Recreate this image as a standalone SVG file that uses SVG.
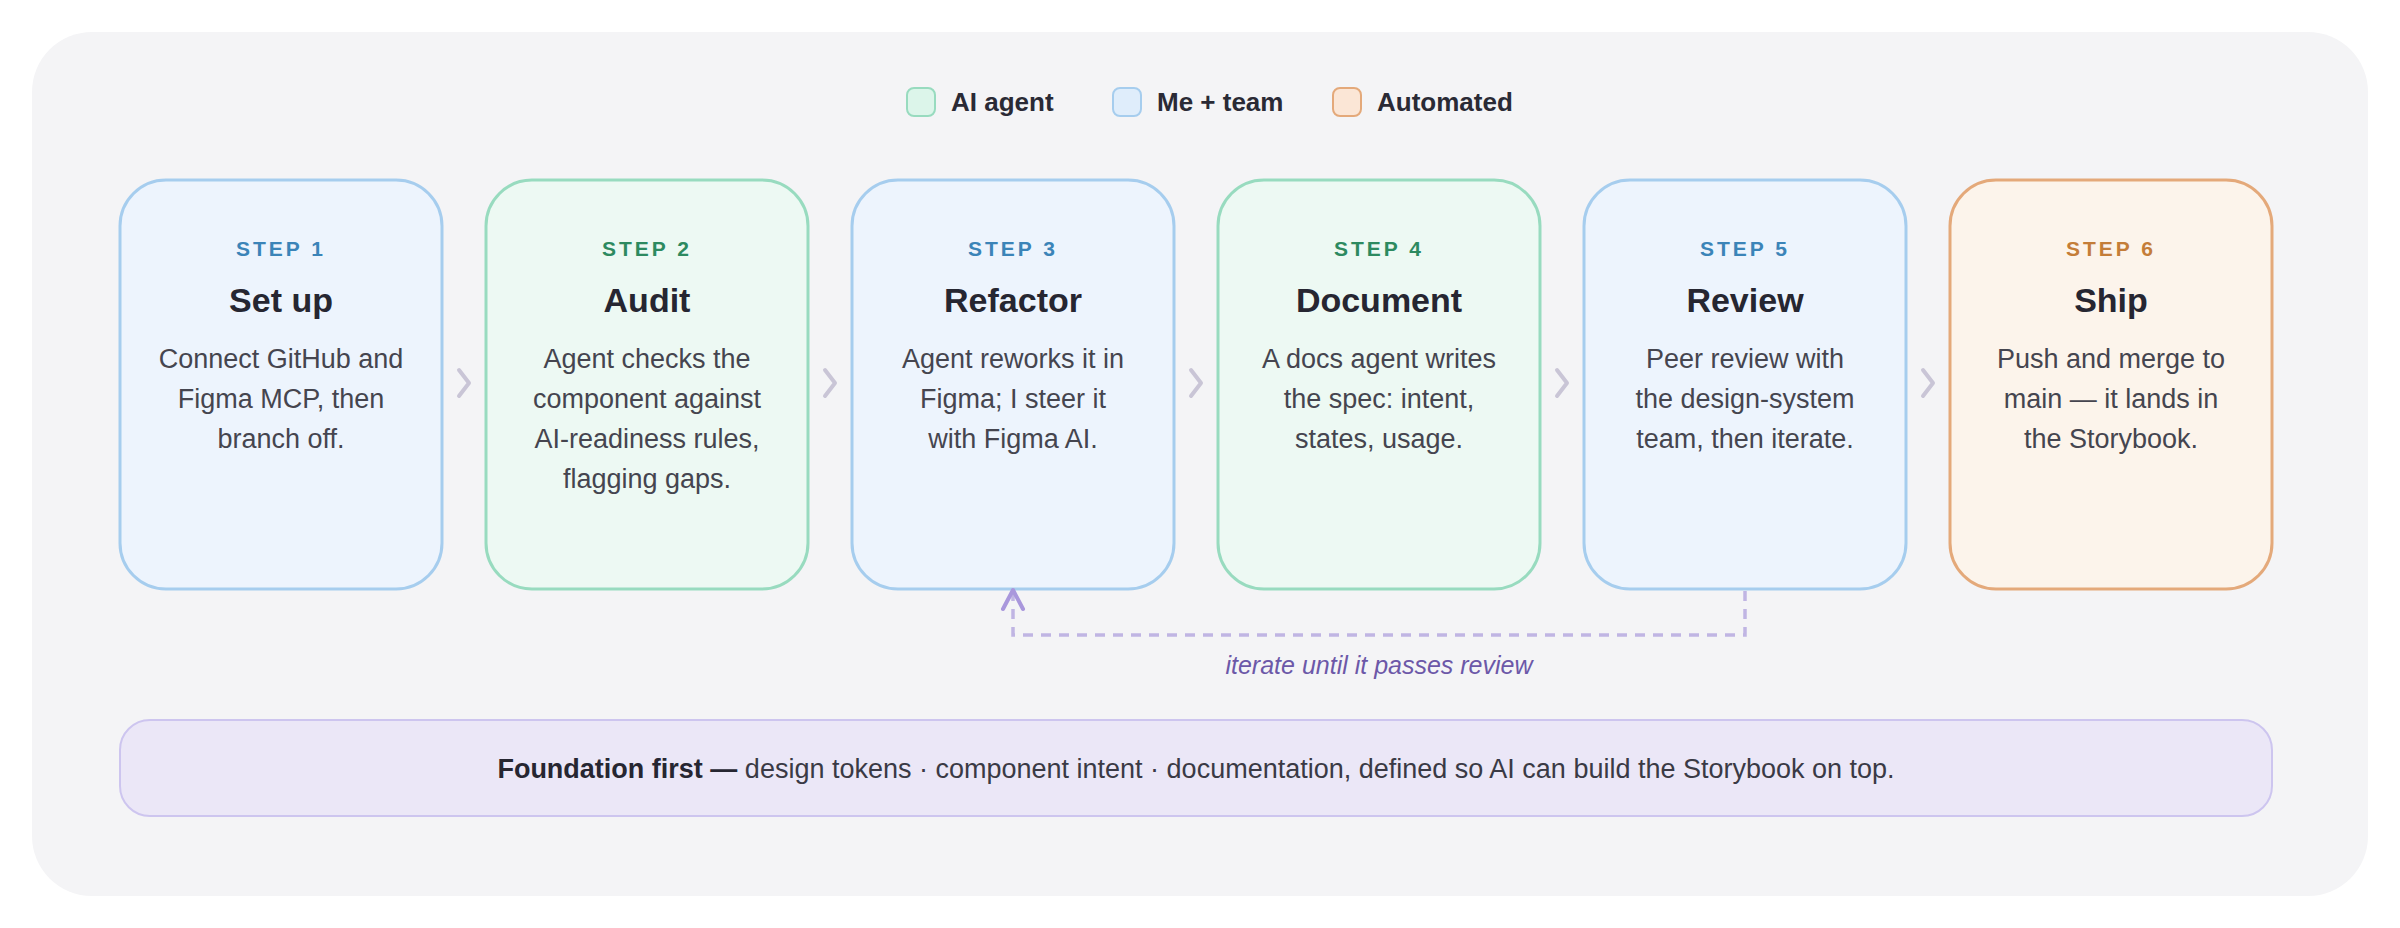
<svg xmlns="http://www.w3.org/2000/svg" width="2400" height="928" viewBox="0 0 2400 928">
<style>
text{font-family:"Liberation Sans",Arial,sans-serif}
.step{font-size:21px;font-weight:bold;letter-spacing:3px;text-anchor:middle}
.title{font-size:34px;font-weight:bold;fill:#262631;text-anchor:middle}
.body{font-size:27px;fill:#45454f;text-anchor:middle}
.leg{font-size:26px;font-weight:bold;fill:#2a2a35}
.blue rect{fill:#edf4fd;stroke:#a6cdee;stroke-width:3}
.green rect{fill:#edf9f3;stroke:#98dbbf;stroke-width:3}
.orange rect{fill:#fcf4eb;stroke:#e4a97a;stroke-width:3}
.blue .step{fill:#3b84b8}.green .step{fill:#2d8a60}.orange .step{fill:#c47d38}
.chev{fill:none;stroke:#c9c5d6;stroke-width:4;stroke-linecap:round;stroke-linejoin:round}
</style>
<rect x="32" y="32" width="2336" height="864" rx="60" fill="#f4f4f6"/>
<g id="legend">
<rect x="907" y="88" width="28" height="28" rx="7" fill="#dcf5ea" stroke="#98dbbf" stroke-width="2"/>
<text class="leg" x="951" y="111">AI agent</text>
<rect x="1113" y="88" width="28" height="28" rx="7" fill="#dfedfb" stroke="#a6cdee" stroke-width="2"/>
<text class="leg" x="1157" y="111">Me + team</text>
<rect x="1333" y="88" width="28" height="28" rx="7" fill="#fbe6d6" stroke="#e4a97a" stroke-width="2"/>
<text class="leg" x="1377" y="111">Automated</text>
</g>
<g id="step1" class="blue"><rect x="120" y="180" width="322" height="409" rx="46"/>
<text class="step" x="281" y="256">STEP 1</text><text class="title" x="281" y="312">Set up</text>
<text class="body" x="281" y="368">Connect GitHub and</text><text class="body" x="281" y="408">Figma MCP, then</text><text class="body" x="281" y="448">branch off.</text></g>
<g id="step2" class="green"><rect x="486" y="180" width="322" height="409" rx="46"/>
<text class="step" x="647" y="256">STEP 2</text><text class="title" x="647" y="312">Audit</text>
<text class="body" x="647" y="368">Agent checks the</text><text class="body" x="647" y="408">component against</text><text class="body" x="647" y="448">AI-readiness rules,</text><text class="body" x="647" y="488">flagging gaps.</text></g>
<g id="step3" class="blue"><rect x="852" y="180" width="322" height="409" rx="46"/>
<text class="step" x="1013" y="256">STEP 3</text><text class="title" x="1013" y="312">Refactor</text>
<text class="body" x="1013" y="368">Agent reworks it in</text><text class="body" x="1013" y="408">Figma; I steer it</text><text class="body" x="1013" y="448">with Figma AI.</text></g>
<g id="step4" class="green"><rect x="1218" y="180" width="322" height="409" rx="46"/>
<text class="step" x="1379" y="256">STEP 4</text><text class="title" x="1379" y="312">Document</text>
<text class="body" x="1379" y="368">A docs agent writes</text><text class="body" x="1379" y="408">the spec: intent,</text><text class="body" x="1379" y="448">states, usage.</text></g>
<g id="step5" class="blue"><rect x="1584" y="180" width="322" height="409" rx="46"/>
<text class="step" x="1745" y="256">STEP 5</text><text class="title" x="1745" y="312">Review</text>
<text class="body" x="1745" y="368">Peer review with</text><text class="body" x="1745" y="408">the design-system</text><text class="body" x="1745" y="448">team, then iterate.</text></g>
<g id="step6" class="orange"><rect x="1950" y="180" width="322" height="409" rx="46"/>
<text class="step" x="2111" y="256">STEP 6</text><text class="title" x="2111" y="312">Ship</text>
<text class="body" x="2111" y="368">Push and merge to</text><text class="body" x="2111" y="408">main — it lands in</text><text class="body" x="2111" y="448">the Storybook.</text></g>
<g id="connectors">
<path class="chev" d="M459 370l10 13-10 13"/>
<path class="chev" d="M825 370l10 13-10 13"/>
<path class="chev" d="M1191 370l10 13-10 13"/>
<path class="chev" d="M1557 370l10 13-10 13"/>
<path class="chev" d="M1923 370l10 13-10 13"/>
<path d="M1745 591V635H1013V594" fill="none" stroke="#c0b5e3" stroke-width="3.5" stroke-dasharray="10 8"/>
<path d="M1003 609l10-19 10 19" fill="none" stroke="#a997dc" stroke-width="4" stroke-linecap="round" stroke-linejoin="round"/>
<text x="1379" y="674" font-size="25" font-style="italic" fill="#6c58a8" text-anchor="middle">iterate until it passes review</text>
</g>
<g id="foundation">
<rect x="120" y="720" width="2152" height="96" rx="30" fill="#ebe7f7" stroke="#cdc5ef" stroke-width="2"/>
<text x="1196" y="778" font-size="27" fill="#3a3a45" text-anchor="middle"><tspan font-weight="bold" fill="#262631">Foundation first —</tspan> design tokens · component intent · documentation, defined so AI can build the Storybook on top.</text>
</g>
</svg>
